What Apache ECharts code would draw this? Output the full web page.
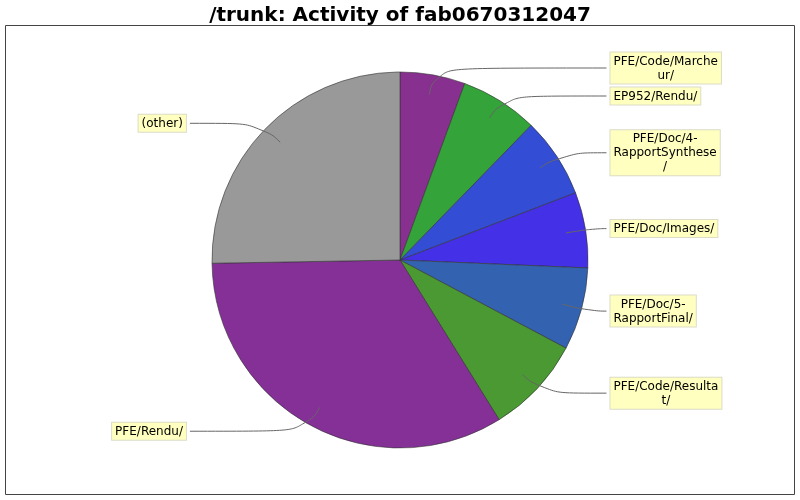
<!DOCTYPE html>
<html>
<head>
<meta charset="utf-8">
<script src="https://cdn.jsdelivr.net/npm/echarts@6/dist/echarts.min.js"></script>
<style>
  html, body { margin: 0; padding: 0; background: #fff; }
  #pie { width: 800px; height: 500px; }
</style>
</head>
<body>
<div id="pie"></div>
<script>
// slices, clockwise from 12 o'clock
var names = ['PFE/Code/Marcheur/', 'EP952/Rendu/', 'PFE/Doc/4-RapportSynthese/', 'PFE/Doc/Images/',
             'PFE/Doc/5-RapportFinal/', 'PFE/Code/Resultat/', 'PFE/Rendu/', '(other)'];
// label text as wrapped in the picture
var labelText = ['PFE/Code/Marche\nur/', 'EP952/Rendu/', 'PFE/Doc/4-\nRapportSynthese\n/', 'PFE/Doc/Images/',
                 'PFE/Doc/5-\nRapportFinal/', 'PFE/Code/Resulta\nt/', 'PFE/Rendu/', '(other)'];
// share of activity (%)
var values = [5.6, 6.7, 6.9, 6.5, 7.1, 8.4, 33.6, 25.3];
var colors = ['#883090', '#33a33a', '#334dd4', '#4430e6', '#3363b0', '#4a9933', '#843096', '#999999'];

var myChart = echarts.init(document.getElementById('pie'));

var pieData = [];
var labelData = [];
for (var i = 0; i < names.length; i++) {
    pieData.push({ name: names[i], value: values[i], itemStyle: { color: colors[i] } });
    var item = { name: names[i], value: values[i] };
    // left side labels sit further out
    if (i >= 6) item.labelLine = { length2: 71 };
    labelData.push(item);
}

// centre every line inside the label box
function centredLines(p) {
    return labelText[p.dataIndex].split('\n').map(function (s) {
        return '{c|' + s + '}';
    }).join('\n');
}

var option = {
    animation: false,
    title: {
        text: '/trunk: Activity of fab0670312047',
        left: 'center',
        top: 1,
        textStyle: { fontFamily: 'DejaVu Sans', fontWeight: 'bold', fontSize: 20, color: '#000' }
    },
    graphic: [{
        type: 'rect',
        shape: { x: 5.5, y: 25.5, width: 789, height: 469 },
        style: { fill: null, stroke: '#444', lineWidth: 1 },
        silent: true
    }],
    series: [
        {
            name: 'activity',
            type: 'pie',
            z: 2,
            center: [400, 260],
            radius: 188,
            startAngle: 90,
            clockwise: true,
            label: { show: false },
            labelLine: { show: false },
            itemStyle: { borderColor: '#333', borderWidth: 0.6 },
            emphasis: { disabled: true },
            data: pieData
        },
        {
            // transparent ring only used to carry the labels, lines start inside the slices
            name: 'labels',
            type: 'pie',
            z: 5,
            center: [400, 260],
            radius: 168,
            startAngle: 90,
            clockwise: true,
            silent: true,
            itemStyle: { color: 'rgba(0,0,0,0)', borderWidth: 0 },
            emphasis: { disabled: true },
            label: {
                show: true,
                formatter: centredLines,
                fontFamily: 'DejaVu Sans',
                fontSize: 12,
                lineHeight: 14,
                color: '#000',
                backgroundColor: '#ffffc0',
                borderColor: '#dcdcc8',
                borderWidth: 1,
                padding: [2, 3, 1, 3],
                alignTo: 'labelLine',
                edgeDistance: 5,
                distanceToLabelLine: 4,
                overflow: 'none',
                rich: {
                    c: { align: 'center', fontFamily: 'DejaVu Sans', fontSize: 12, lineHeight: 14, color: '#000' }
                }
            },
            labelLine: {
                show: true,
                length: 27,
                length2: 14,
                smooth: 0.6,
                lineStyle: { color: '#666', width: 1 }
            },
            data: labelData
        }
    ]
};
myChart.setOption(option);
</script>
</body>
</html>
